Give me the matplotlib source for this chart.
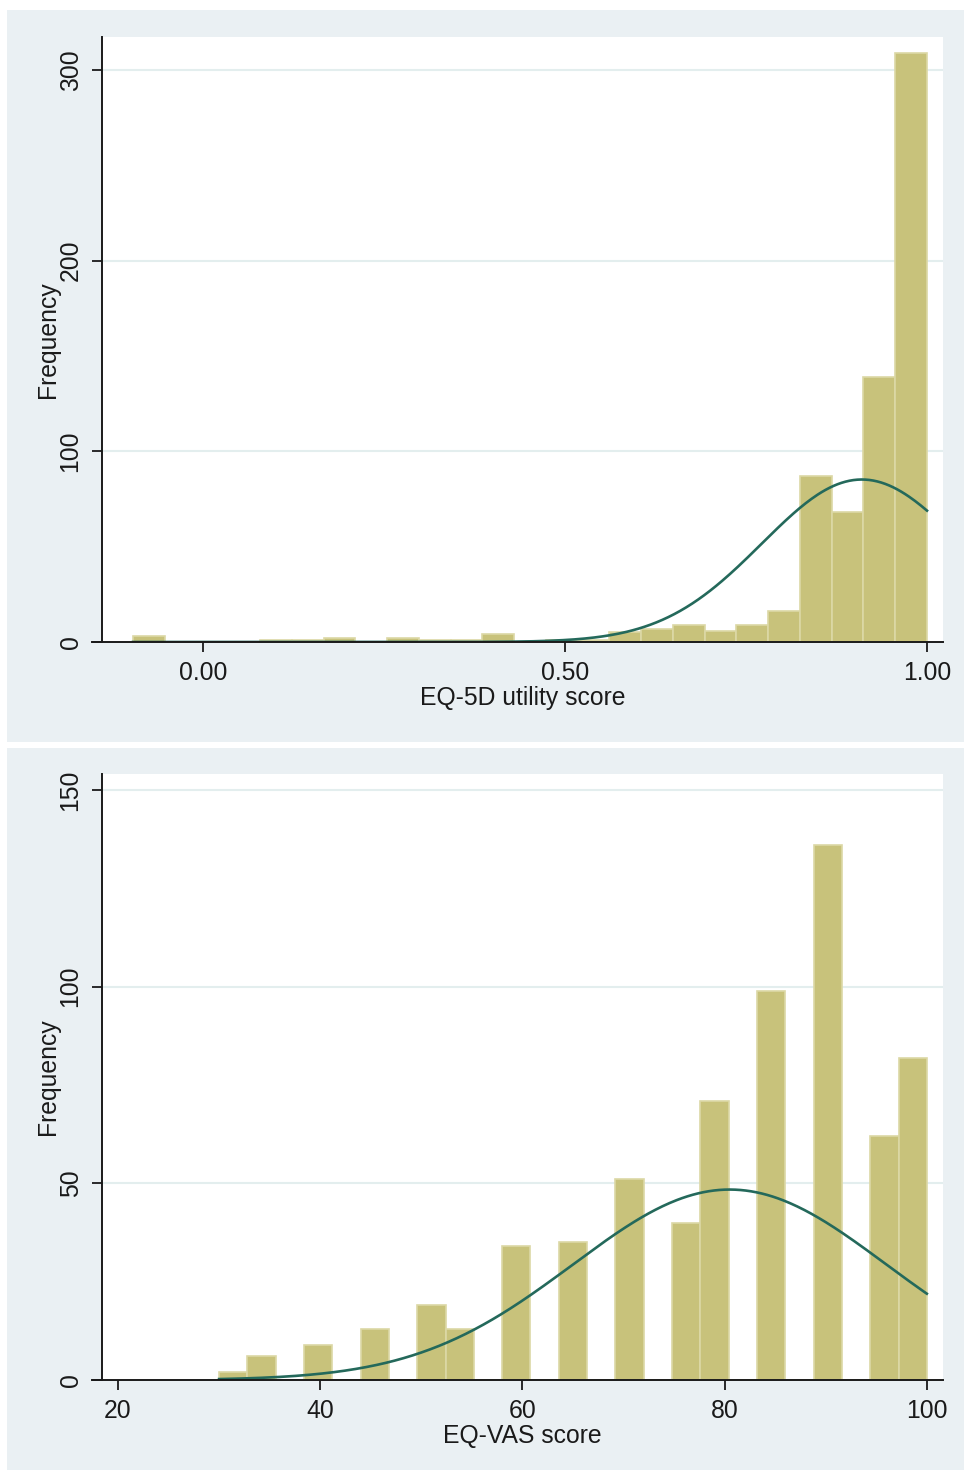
import matplotlib
matplotlib.use('Agg')
import matplotlib.pyplot as plt
import numpy as np
from matplotlib.patches import Rectangle

plt.rcParams['font.family'] = ['Liberation Sans', 'DejaVu Sans']

# EQ-5D utility score histogram (25 bins from -0.0967 to 1.00)
eq5d_lo, eq5d_hi = -0.0967, 1.0
eq5d_counts = [3, 0, 0, 0, 1, 1, 2, 0, 2, 1, 1, 4, 0, 1, 1,
               5, 7, 9, 6, 9, 16, 87, 68, 139, 309]
eq5d_mean, eq5d_sd = 0.91, 0.138
eq5d_xticks = [0.0, 0.5, 1.0]
eq5d_xticklabels = ['0.00', '0.50', '1.00']
eq5d_yticks = [0, 100, 200, 300]

# EQ-VAS score histogram (25 bins from 30 to 100)
vas_lo, vas_hi = 30, 100
vas_counts = [2, 6, 0, 9, 0, 13, 0, 19, 13, 0, 34, 0, 35, 0, 51,
              0, 40, 71, 0, 99, 0, 136, 0, 62, 82]
vas_mean, vas_sd = 80.5, 15.5
vas_xticks = [20, 40, 60, 80, 100]
vas_yticks = [0, 50, 100, 150]

BG = '#EAF0F3'
BAR = '#C8C27B'
BAR_EDGE = '#DCD8A6'
CURVE = '#24695B'
INK = '#1A1A1A'
FS = 17.8

W, H = 964, 1473
fig = plt.figure(figsize=(W / 100, H / 100), dpi=100)
fig.patch.set_facecolor('white')

# panel backgrounds (pixel boxes)
for (x0, y0, x1, y1) in [(7, 10, 964, 742), (7, 748, 964, 1470)]:
    fig.patches.append(Rectangle((x0 / W, 1 - y1 / H), (x1 - x0) / W, (y1 - y0) / H,
                                 transform=fig.transFigure, facecolor=BG,
                                 edgecolor='none', zorder=-5))


def hist_panel(ax, lo, hi, counts, mean, sd, xlim, ylim, xticks, xticklabels,
               yticks, xlabel):
    counts = np.array(counts)
    edges = np.linspace(lo, hi, len(counts) + 1)
    width = edges[1] - edges[0]
    ax.set_facecolor('white')
    ax.bar(edges[:-1], counts, width=width, align='edge', color=BAR,
           edgecolor=BAR_EDGE, linewidth=1.2, zorder=2)
    xs = np.linspace(lo, hi, 400)
    n = counts.sum()
    dens = n * width / (sd * np.sqrt(2 * np.pi)) * np.exp(-0.5 * ((xs - mean) / sd) ** 2)
    ax.plot(xs, dens, color=CURVE, linewidth=1.9, zorder=3)

    ax.set_xlim(*xlim)
    ax.set_ylim(*ylim)
    ax.set_xticks(xticks)
    ax.set_xticklabels(xticklabels)
    ax.set_yticks(yticks)
    ax.set_yticklabels([str(t) for t in yticks], rotation=90, va='center')
    for t in yticks[1:]:
        ax.axhline(t, color='#E3EEEE', linewidth=1.5, zorder=1)

    for s in ['top', 'right']:
        ax.spines[s].set_visible(False)
    for s in ['left', 'bottom']:
        ax.spines[s].set_color(INK)
        ax.spines[s].set_linewidth(1.4)
        ax.spines[s].set_zorder(4)
    ax.plot([-0.012, 0], [0, 0], transform=ax.transAxes, color=INK,
            linewidth=1.4, clip_on=False, zorder=4)
    ax.tick_params(axis='both', length=7, width=1.3, color=INK,
                   labelsize=FS, labelcolor=INK, pad=7)
    ax.tick_params(axis='y', pad=7)
    ax.set_xlabel(xlabel, fontsize=FS, color=INK, labelpad=0.5)
    ax.set_ylabel('Frequency', fontsize=FS, color=INK, labelpad=-1)


ax1 = fig.add_axes([102 / W, 1 - 642 / H, 841 / W, 605 / H])
hist_panel(ax1, eq5d_lo, eq5d_hi, eq5d_counts, eq5d_mean, eq5d_sd,
           (-0.1395, 1.0221), (0, 317.3), eq5d_xticks, eq5d_xticklabels,
           eq5d_yticks, 'EQ-5D utility score')

ax2 = fig.add_axes([102 / W, 1 - 1380 / H, 841 / W, 606 / H])
hist_panel(ax2, vas_lo, vas_hi, vas_counts, vas_mean, vas_sd,
           (18.42, 101.6), (0, 154.1), vas_xticks,
           [str(t) for t in vas_xticks], vas_yticks, 'EQ-VAS score')

fig.savefig('out.png', dpi=100)
